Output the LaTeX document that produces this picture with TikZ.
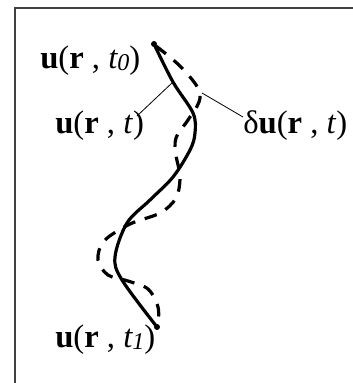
\documentclass[tikz,border=0pt]{standalone}
\usepackage{fontspec}
\setmainfont{Liberation Serif}
\begin{document}
\begin{tikzpicture}[x=0.75pt,y=-0.75pt,
  lbl/.style={inner sep=0pt,anchor=base west,font=\fontsize{24.5}{28}\selectfont},
  solidcurve/.style={line width=2.4pt,line cap=round,line join=round},
  dashcurve/.style={line width=2.4pt,dash pattern=on 9.5pt off 7.5pt},
  pointer/.style={line width=0.6pt},
  framestyle/.style={draw=black!75,line width=1.1pt},
  dotstyle/.style={circle,fill=black,inner sep=0pt,minimum size=4.5pt}]
\useasboundingbox (0,0) rectangle (353,383);
\draw[framestyle] (15,383) -- (15,8) -- (353,8);
% labels
\node[lbl] (l0) at (40,68) {\textbf{u}(\textbf{r} , \textit{t}\kern-0.5pt\raisebox{-1.5pt}{\fontsize{18}{22}\selectfont\textit{0}})};
\node[lbl] (l1) at (55,133) {\textbf{u}(\textbf{r} , \textit{t})};
\node[lbl] (l2) at (243,133) {δ\textbf{u}(\textbf{r} , \textit{t})};
\node[lbl] (l3) at (55,347) {\textbf{u}(\textbf{r} , \textit{t}\kern-0.5pt\raisebox{-1.5pt}{\fontsize{18}{22}\selectfont\textit{1}})};
% end points
\node[dotstyle] (p0) at (154,44) {};
\node[dotstyle] (p1) at (157,327) {};
% solid curve
\draw[solidcurve] plot[smooth,tension=0.55] coordinates {(154,44) (173,82) (193,113) (195,133) (190,150) (173,177) (150,200) (127,223) (115,257) (122,280) (157,327)};
% dashed curve
\draw[dashcurve] plot[smooth,tension=0.55] coordinates {(156,46) (180,66) (198,88) (199,102) (188,120) (176,138) (176,155) (180,177) (176,198) (160,213) (130,224) (104,241) (98,260) (108,275) (128,281) (148,289) (158,307) (158,324)};
% pointers
\coordinate (c1) at (173,82);
\coordinate (c2) at (202,93);
\draw[pointer] (137,116) -- (c1);
\draw[pointer] (243,117) -- (c2);
\end{tikzpicture}
\end{document}
